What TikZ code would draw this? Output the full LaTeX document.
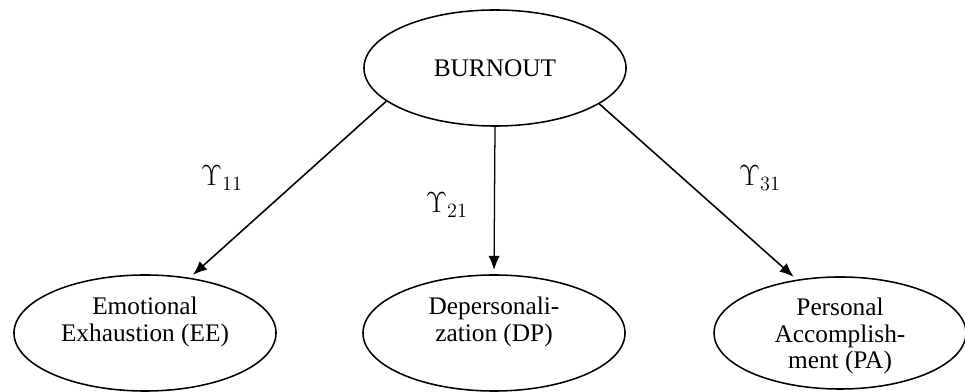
\documentclass[tikz,border=0pt]{standalone}
\usepackage{fontspec}
\setmainfont{Liberation Serif}
\usetikzlibrary{positioning, shapes.geometric, arrows.meta}
\tikzset{
	latentnode/.style={
			ellipse,
			draw=black,
			line width=1.1pt,
			minimum width=6.55cm,
			minimum height=2.9cm,
			inner sep=0pt
		},
	pathline/.style={
			-{Latex[length=10pt,width=8pt]},
			line width=1.1pt,
			shorten >=3pt
		},
	labeltext/.style={font=\fontsize{18}{19}\selectfont, align=center},
	gammatext/.style={font=\fontsize{20}{22}\selectfont}
}

\begin{document}
\begin{tikzpicture}[x=0.025cm, y=0.025cm]

  \useasboundingbox (0,0) rectangle (965,392);

  \node[latentnode, labeltext] (burnout) at (495,324) {BURNOUT};

  \node[latentnode] (ee) at (145,59) {};
  \node[latentnode] (dp) at (494,59) {};
  \node[latentnode, minimum width=6.3cm, minimum height=2.8cm] (pa) at (840,59) {};

  \node[labeltext] (eetext) at (145,70) {Emotional\\Exhaustion (EE)};
  \node[labeltext] (dptext) at (494,70) {Depersonali-\\zation (DP)};
  \node[labeltext] (patext) at (840,56) {Personal\\Accomplish-\\ment (PA)};

  \draw[pathline] (burnout.197) -- (ee.51);
  \draw[pathline, line width=0.9pt] (burnout.south) -- (dp.north);
  \draw[pathline] (burnout.341) -- (pa.129);

  \node[gammatext] (g11) at (222,214) {$\Upsilon_{11}$};
  \node[gammatext] (g21) at (447,187) {$\Upsilon_{21}$};
  \node[gammatext] (g31) at (760,214) {$\Upsilon_{31}$};

\end{tikzpicture}
\end{document}
